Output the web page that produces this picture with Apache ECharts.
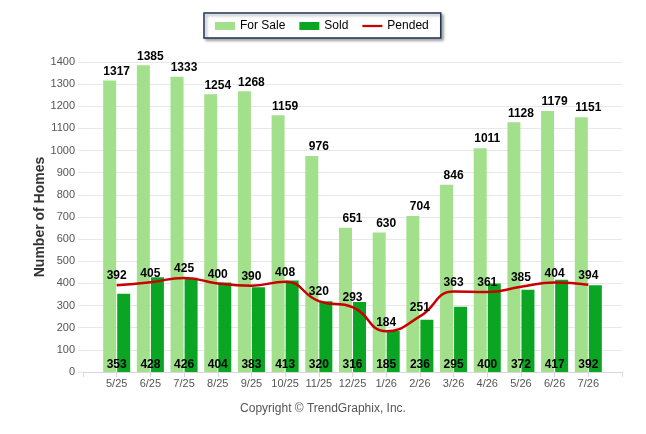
<!DOCTYPE html>
<html>
<head>
<meta charset="utf-8" />
<style>html,body{margin:0;padding:0;background:#fff}#chart{width:646px;height:434px}</style>
<script src="https://cdn.jsdelivr.net/npm/echarts@6/dist/echarts.min.js"></script>
</head>
<body>
<div id="chart"></div>
<script>
const months = ["5/25","6/25","7/25","8/25","9/25","10/25","11/25","12/25","1/26","2/26","3/26","4/26","5/26","6/26","7/26"];
const forSale = [1317,1385,1333,1254,1268,1159,976,651,630,704,846,1011,1128,1179,1151];
const sold = [353,428,426,404,383,413,320,316,185,236,295,400,372,417,392];
const pended = [392,405,425,400,390,408,320,293,184,251,363,361,385,404,394];
const yTicks = { min: 0, max: 1400, step: 100 };

// empty slot at each end, like the original axis
const pad = (arr) => [null].concat(arr, [null]);
const cats = [""].concat(months, [""]);

const chart = echarts.init(document.getElementById("chart"), null, { renderer: "canvas" });
const FONT = "Liberation Sans, Arial, sans-serif";
const lbl = { show: true, color: "#000", fontWeight: "bold", fontSize: 12, fontFamily: FONT };

chart.setOption({
  animation: false,
  textStyle: { fontFamily: FONT },
  legend: {
    left: 204, top: 13,
    padding: [7, 12, 6, 11],
    itemWidth: 20, itemHeight: 8, itemGap: 14,
    borderColor: "#1f3557", borderWidth: 1.5,
    backgroundColor: "#fff",
    shadowColor: "rgba(0,0,0,0.35)", shadowBlur: 3, shadowOffsetX: 2, shadowOffsetY: 2,
    textStyle: { fontSize: 12, color: "#000", fontFamily: FONT },
    data: [
      { name: "For Sale", icon: "rect" },
      { name: "Sold", icon: "rect" },
      { name: "Pended", icon: "path://M0,0L22,0L22,2.5L0,2.5Z" }
    ]
  },
  grid: { left: 83, right: 24, top: 62, bottom: 62, containLabel: false },
  xAxis: {
    type: "category",
    data: cats,
    boundaryGap: false,
    axisLine: { lineStyle: { color: "#d8d8d8" } },
    axisTick: { show: true, length: 5, interval: 0, lineStyle: { color: "#d8d8d8" } },
    axisLabel: { interval: 0, color: "#555", fontSize: 11, margin: 6 },
    splitLine: { show: false }
  },
  yAxis: {
    type: "value",
    min: yTicks.min, max: yTicks.max, interval: yTicks.step,
    name: "Number of Homes",
    nameLocation: "middle",
    nameGap: 36,
    nameMoveOverlap: false,
    nameTextStyle: { fontSize: 14, fontWeight: "bold", color: "#333", fontFamily: FONT },
    axisLine: { show: false },
    axisTick: { show: true, length: 5, lineStyle: { color: "#e6e6e6" } },
    axisLabel: { color: "#555", fontSize: 11, margin: 8, formatter: (v) => String(v) },
    splitLine: { lineStyle: { color: "#e8e8e8" } }
  },
  series: [
    {
      name: "For Sale", type: "bar", data: pad(forSale),
      barWidth: 13, barGap: "8%",
      itemStyle: { color: "#a3e08c" },
      // labels sit over the month, not over the bar
      label: Object.assign({ position: "top", distance: 3, offset: [7, 0] }, lbl)
    },
    {
      name: "Sold", type: "bar", data: pad(sold),
      barWidth: 13,
      itemStyle: { color: "#0aa623" },
      label: Object.assign({ position: "insideBottom", distance: 1, offset: [-7, 0] }, lbl)
    },
    {
      name: "Pended", type: "line", data: pad(pended),
      smooth: true, symbol: "circle", symbolSize: 0.1, showSymbol: true, z: 5,
      lineStyle: { color: "#c80000", width: 2.5 },
      itemStyle: { color: "#c80000" },
      label: Object.assign({ position: "top", distance: 3 }, lbl)
    }
  ],
  graphic: [{
    type: "text", left: "center", top: 403,
    style: { text: "Copyright \u00a9 TrendGraphix, Inc.", fill: "#555", font: "12px " + FONT }
  }]
});
</script>
</body>
</html>
